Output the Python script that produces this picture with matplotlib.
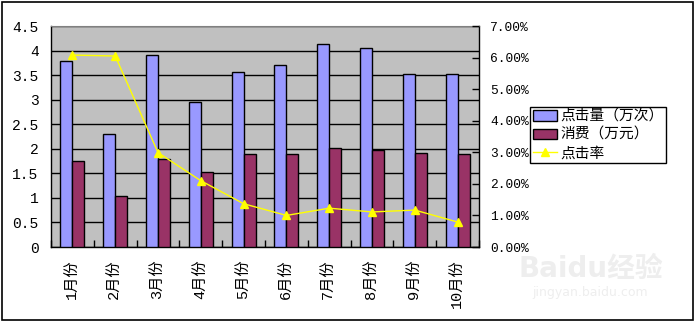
import numpy as np
import matplotlib.pyplot as plt
from matplotlib.ticker import FuncFormatter, MultipleLocator

plt.rcParams['font.family'] = ['Liberation Mono', 'Noto Sans CJK SC', 'DejaVu Sans']

months = ['1月份', '2月份', '3月份', '4月份', '5月份', '6月份', '7月份', '8月份', '9月份', '10月份']
clicks = [3.78, 2.30, 3.92, 2.95, 3.56, 3.70, 4.13, 4.05, 3.52, 3.52]   # 万次
cost = [1.75, 1.03, 1.79, 1.52, 1.90, 1.89, 2.01, 1.97, 1.91, 1.89]     # 万元
ctr = [0.0608, 0.0605, 0.0299, 0.0210, 0.0137, 0.0100, 0.0123, 0.0111, 0.0117, 0.0079]

fig = plt.figure(figsize=(6.96, 3.22), dpi=100)
fig.patch.set_facecolor('white')
ax = fig.add_axes([0.0733, 0.2329, 0.615, 0.6863])
ax.set_facecolor('#C0C0C0')

x = np.arange(len(months))
w = 0.28
b1 = ax.bar(x - w / 2, clicks, w, color='#9999FF', edgecolor='black', linewidth=1, zorder=3,
            label='点击量（万次）')
b2 = ax.bar(x + w / 2, cost, w, color='#993366', edgecolor='black', linewidth=1, zorder=3,
            label='消费（万元）')

ax.set_xlim(-0.5, len(months) - 0.5)
ax.set_ylim(0, 4.5)
ax.yaxis.set_major_locator(MultipleLocator(0.5))
ax.yaxis.set_major_formatter(FuncFormatter(lambda v, p: ('%g' % v)))
ax.yaxis.grid(True, color='black', linewidth=1, zorder=1)
ax.set_axisbelow(True)
ax.tick_params(axis='y', length=0, pad=9, labelsize=10.5)

ax.set_xticks(x)
ax.set_xticklabels(months, rotation=90, va='top', ha='center')
ax.set_xticks(np.arange(len(months) + 1) - 0.5, minor=True)
ax.tick_params(axis='x', which='major', length=0, pad=9, labelsize=11)
ax.tick_params(axis='x', which='minor', direction='in', length=5, width=1, color='black')

for s in ['left', 'bottom', 'right']:
    ax.spines[s].set_color('black')
    ax.spines[s].set_linewidth(1)
ax.spines['top'].set_color('#808080')

ax2 = ax.twinx()
ln, = ax2.plot(x, ctr, color='#FFFF00', linewidth=1, marker='^', markersize=6,
               markerfacecolor='#FFFF00', markeredgecolor='#FFFF00', zorder=5, label='点击率')
ax2.set_ylim(0, 0.07)
ax2.yaxis.set_major_locator(MultipleLocator(0.01))
ax2.yaxis.set_major_formatter(FuncFormatter(lambda v, p: '%.2f%%' % (v * 100)))
ax2.tick_params(axis='y', direction='in', length=5, width=1, pad=8, labelsize=9.3)
for s in ax2.spines.values():
    s.set_visible(False)

leg = fig.legend(handles=[b1, b2, ln], loc='upper left', bbox_to_anchor=(0.7615, 0.6677),
                 fancybox=False, edgecolor='black', framealpha=1, fontsize=10.6,
                 borderpad=0.2, labelspacing=0.28, handlelength=1.65, handleheight=0.75,
                 handletextpad=0.2, borderaxespad=0)
leg.get_frame().set_linewidth(1)

# faint watermark in the lower right corner
fig.text(0.745, 0.14, 'Baidu经验', fontsize=20, color='#EEEEEE', fontweight='bold',
         family=['DejaVu Sans', 'Noto Sans CJK SC'])
fig.text(0.765, 0.08, 'jingyan.baidu.com', fontsize=9, color='#EEEEEE',
         family=['DejaVu Sans'])

# outer border
fig.add_artist(plt.Rectangle((0.003, 0.006), 0.992, 0.988, transform=fig.transFigure,
                             fill=False, edgecolor='black', linewidth=1.2))

fig.savefig('out.png', dpi=100)
